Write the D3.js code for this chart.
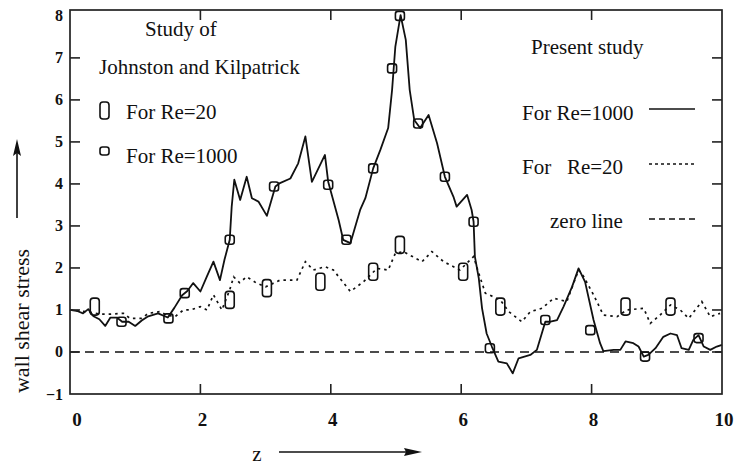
<!DOCTYPE html>
<html>
<head>
<meta charset="utf-8">
<script src="https://cdn.jsdelivr.net/npm/d3@7"></script>
<style>
  html, body { margin: 0; padding: 0; background: #fff; }
  svg { display: block; }
  text { font-family: "Liberation Serif", "DejaVu Serif", serif; fill: #111; }
</style>
</head>
<body>
<svg id="chart" width="734" height="470"></svg>
<script>
// Present study, Re = 1000 (solid line): [z, wall shear stress]
const presentRe1000 = [
  [0,1.0],[0.12,0.97],[0.2,0.92],[0.28,1.02],[0.36,0.85],[0.45,0.78],[0.54,0.62],[0.62,0.82],
  [0.72,0.82],[0.8,0.72],[0.9,0.72],[1.0,0.62],[1.1,0.75],[1.2,0.85],[1.35,0.92],[1.5,0.82],
  [1.6,1.05],[1.72,1.35],[1.8,1.45],[1.89,1.64],[2.0,1.44],[2.1,1.8],[2.2,2.15],[2.3,1.71],
  [2.37,2.2],[2.45,2.67],[2.48,3.46],[2.52,4.1],[2.61,3.62],[2.71,4.17],[2.79,3.66],[2.89,3.58],
  [3.02,3.24],[3.15,3.94],[3.22,4.02],[3.38,4.13],[3.5,4.49],[3.61,5.13],[3.71,4.05],[3.91,4.69],
  [3.96,4.05],[4.12,3.14],[4.19,2.67],[4.3,2.59],[4.45,3.38],[4.53,3.66],[4.65,4.37],[4.76,4.81],
  [4.88,5.33],[4.94,6.24],[4.99,7.27],[5.07,8.02],[5.15,7.43],[5.21,6.24],[5.28,5.52],[5.37,5.33],
  [5.5,5.64],[5.63,4.97],[5.75,4.17],[5.88,3.7],[5.93,3.46],[6.09,3.74],[6.16,3.38],[6.19,3.1],
  [6.21,2.27],[6.27,1.75],[6.32,1.04],[6.39,0.44],[6.47,0.13],[6.57,-0.23],[6.7,-0.27],[6.79,-0.51],
  [6.88,-0.15],[7.06,-0.07],[7.16,0.05],[7.29,0.72],[7.37,0.72],[7.47,0.76],[7.57,1.08],[7.7,1.55],
  [7.8,1.99],[7.9,1.67],[8.03,0.76],[8.13,0.21],[8.18,0.02],[8.34,0.05],[8.44,0.05],[8.52,0.25],
  [8.64,0.21],[8.72,0.13],[8.8,-0.11],[8.87,-0.07],[8.98,0.09],[9.1,0.36],[9.21,0.44],[9.31,0.4],
  [9.38,0.09],[9.49,0.05],[9.56,0.29],[9.64,0.4],[9.72,0.13],[9.82,0.05],[9.92,0.13],[10.0,0.17]
];

// Present study, Re = 20 (dotted line)
const presentRe20 = [
  [0,1.0],[0.15,0.98],[0.3,0.95],[0.45,0.9],[0.61,0.9],[0.82,0.92],[0.92,0.8],[1.1,0.8],
  [1.2,0.92],[1.38,0.96],[1.48,0.88],[1.61,0.84],[1.74,1.0],[1.85,1.0],[2.0,1.08],[2.1,1.0],
  [2.2,1.36],[2.33,1.0],[2.45,1.48],[2.51,1.79],[2.6,1.65],[2.71,1.79],[2.86,1.64],[3.0,1.55],
  [3.22,1.71],[3.48,1.71],[3.61,2.15],[3.73,1.95],[3.91,2.03],[4.04,1.95],[4.3,1.44],[4.5,1.67],
  [4.71,1.99],[4.88,1.95],[4.99,2.35],[5.11,2.39],[5.4,2.15],[5.55,2.39],[5.73,2.15],[5.98,1.95],
  [6.19,2.27],[6.27,1.87],[6.37,1.4],[6.6,1.24],[6.73,0.96],[6.93,0.72],[7.06,0.96],[7.24,1.04],
  [7.42,1.28],[7.62,1.2],[7.8,1.95],[7.88,1.79],[8.03,1.36],[8.18,0.88],[8.39,0.84],[8.54,1.0],
  [8.8,1.04],[8.9,0.68],[9.05,0.88],[9.21,1.12],[9.36,1.0],[9.49,0.8],[9.69,1.2],[9.82,0.84],[9.97,0.92]
];

// Johnston and Kilpatrick, Re = 20 (tall open markers)
const jkRe20 = [
  [0.38,1.08],[2.45,1.24],[3.02,1.52],[3.84,1.67],[4.65,1.91],[5.06,2.55],[6.03,1.91],
  [6.6,1.08],[8.52,1.08],[9.21,1.08]
];

// Johnston and Kilpatrick, Re = 1000 (small open squares)
const jkRe1000 = [
  [0.79,0.72],[1.51,0.8],[1.76,1.4],[2.45,2.67],[3.13,3.94],[3.96,3.98],[4.24,2.67],[4.65,4.37],
  [4.94,6.75],[5.06,8.0],[5.34,5.44],[5.75,4.17],[6.19,3.1],[6.44,0.09],[7.29,0.76],[7.98,0.52],
  [8.82,-0.11],[9.64,0.33]
];

const xTicks = [0, 2, 4, 6, 8, 10];
const yTicks = [-1, 0, 1, 2, 3, 4, 5, 6, 7, 8];

const svg = d3.select("#chart");
const plotLeft = 70, plotRight = 722, plotTop = 10, plotBottom = 394;

const x = d3.scaleLinear().domain([0, 10]).range([plotLeft, plotRight]);
const y = d3.scaleLinear().domain([-1, 8.14]).range([plotBottom, plotTop]);

const ink = "#111";

// zero line
svg.append("line")
  .attr("x1", x(0)).attr("x2", x(10)).attr("y1", y(0)).attr("y2", y(0))
  .attr("stroke", ink).attr("stroke-width", 1.4).attr("stroke-dasharray", "9,6");

const line = d3.line().x(d => x(d[0])).y(d => y(d[1]));

svg.append("path").datum(presentRe20)
  .attr("d", line).attr("fill", "none").attr("stroke", ink)
  .attr("stroke-width", 1.7).attr("stroke-dasharray", "2.5,4");

svg.append("path").datum(presentRe1000)
  .attr("d", line).attr("fill", "none").attr("stroke", ink)
  .attr("stroke-width", 1.8).attr("stroke-linejoin", "round");

// experimental markers
const tallW = 9, tallH = 17, sqW = 9;
svg.append("g").selectAll("rect").data(jkRe20).join("rect")
  .attr("x", d => x(d[0]) - tallW / 2).attr("y", d => y(d[1]) - tallH / 2)
  .attr("width", tallW).attr("height", tallH).attr("rx", 3)
  .attr("fill", "none").attr("stroke", ink).attr("stroke-width", 1.6);

svg.append("g").selectAll("rect").data(jkRe1000).join("rect")
  .attr("x", d => x(d[0]) - sqW / 2).attr("y", d => y(d[1]) - sqW / 2)
  .attr("width", sqW).attr("height", sqW).attr("rx", 2.5)
  .attr("fill", "none").attr("stroke", ink).attr("stroke-width", 1.6);

// frame
svg.append("rect")
  .attr("x", plotLeft).attr("y", plotTop).attr("width", plotRight - plotLeft).attr("height", plotBottom - plotTop)
  .attr("fill", "none").attr("stroke", "#222").attr("stroke-width", 1.7);

// inward ticks on all four sides
const tl = 10;
const g = svg.append("g").attr("stroke", "#222").attr("stroke-width", 1.6);
xTicks.slice(1, -1).forEach(t => {
  g.append("line").attr("x1", x(t)).attr("x2", x(t)).attr("y1", plotBottom).attr("y2", plotBottom - tl);
  g.append("line").attr("x1", x(t)).attr("x2", x(t)).attr("y1", plotTop).attr("y2", plotTop + tl);
});
yTicks.slice(1, -1).forEach(t => {
  g.append("line").attr("x1", plotLeft).attr("x2", plotLeft + tl).attr("y1", y(t)).attr("y2", y(t));
  g.append("line").attr("x1", plotRight).attr("x2", plotRight - tl).attr("y1", y(t)).attr("y2", y(t));
});

// tick labels
svg.append("g").selectAll("text").data(xTicks).join("text")
  .attr("x", (d, i) => x(d) + (i === 0 ? 7 : 2)).attr("y", 426)
  .attr("text-anchor", "middle").attr("font-weight", "bold").attr("font-size", 19)
  .text(d => d);

svg.append("g").selectAll("text").data(yTicks).join("text")
  .attr("x", 63).attr("y", d => Math.max(y(d), 14) + 5.5)
  .attr("text-anchor", "end").attr("font-weight", "bold").attr("font-size", 16)
  .text(d => d < 0 ? "\u2212" + Math.abs(d) : d);

// axis titles with arrows
svg.append("text").attr("x", 257).attr("y", 461).attr("text-anchor", "middle")
  .attr("font-size", 21).text("z");
svg.append("line").attr("x1", 279).attr("x2", 410).attr("y1", 452).attr("y2", 452)
  .attr("stroke", ink).attr("stroke-width", 1.6);
svg.append("path").attr("d", `M422,452 L404,448 L406,452 L404,456 Z`).attr("fill", ink);

svg.append("text").attr("transform", "translate(29,321) rotate(-90)")
  .attr("text-anchor", "middle").attr("font-size", 22).text("wall shear stress");
svg.append("line").attr("x1", 17).attr("x2", 17).attr("y1", 218).attr("y2", 150)
  .attr("stroke", ink).attr("stroke-width", 1.6);
svg.append("path").attr("d", `M17,139 L13,156 L17,153 L21,156 Z`).attr("fill", ink);

// left legend: experimental data
const fs = 21;
svg.append("text").attr("x", 181).attr("y", 36).attr("text-anchor", "middle").attr("font-size", fs).text("Study of");
svg.append("text").attr("x", 99).attr("y", 74).attr("font-size", fs).text("Johnston and Kilpatrick");
svg.append("rect").attr("x", 100).attr("y", 102).attr("width", tallW).attr("height", tallH).attr("rx", 3)
  .attr("fill", "none").attr("stroke", ink).attr("stroke-width", 1.6);
svg.append("text").attr("x", 126).attr("y", 119).attr("font-size", fs).text("For Re=20");
svg.append("rect").attr("x", 100).attr("y", 147).attr("width", sqW).attr("height", sqW - 1).attr("rx", 2.5)
  .attr("fill", "none").attr("stroke", ink).attr("stroke-width", 1.6);
svg.append("text").attr("x", 126).attr("y", 163).attr("font-size", fs).text("For Re=1000");

// right legend: present computations
svg.append("text").attr("x", 531).attr("y", 54).attr("font-size", fs).text("Present study");
svg.append("text").attr("x", 522).attr("y", 120).attr("font-size", fs).text("For Re=1000");
svg.append("line").attr("x1", 649).attr("x2", 695).attr("y1", 109).attr("y2", 109)
  .attr("stroke", ink).attr("stroke-width", 1.6);
svg.append("text").attr("x", 522).attr("y", 174).attr("font-size", fs).attr("xml:space", "preserve").text("For   Re=20");
svg.append("line").attr("x1", 649).attr("x2", 695).attr("y1", 164).attr("y2", 164)
  .attr("stroke", ink).attr("stroke-width", 1.6).attr("stroke-dasharray", "3,3");
svg.append("text").attr("x", 550).attr("y", 228).attr("font-size", fs).text("zero line");
svg.append("line").attr("x1", 649).attr("x2", 695).attr("y1", 219).attr("y2", 219)
  .attr("stroke", ink).attr("stroke-width", 1.6).attr("stroke-dasharray", "6,4");
</script>
</body>
</html>
